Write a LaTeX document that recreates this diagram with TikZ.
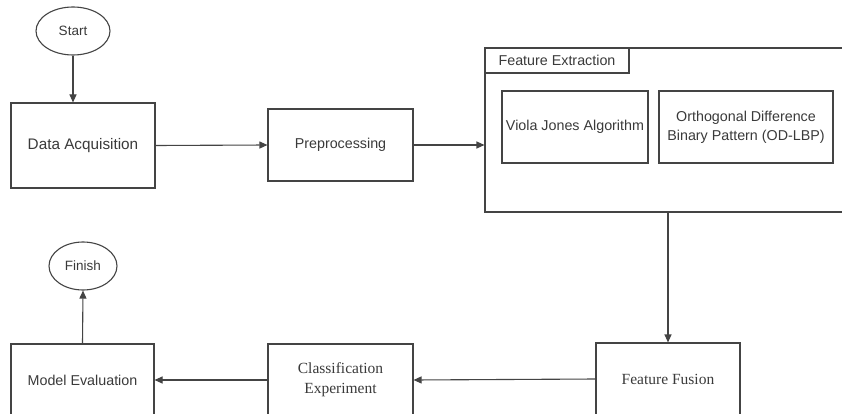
\documentclass[tikz,border=0pt]{standalone}
\usepackage{fontspec}
\setmainfont{Liberation Sans}
\newfontfamily\serifface{Liberation Serif}
\usetikzlibrary{arrows.meta,shapes.geometric,calc}
\definecolor{linec}{HTML}{444444}
\definecolor{textc}{HTML}{3A3A3A}
\tikzset{
  box/.style={draw=linec,line width=1.1pt,rectangle,inner sep=0pt,align=center,text=textc,font=\fontsize{14.3}{19}\selectfont},
  term/.style={draw=linec,line width=1.1pt,ellipse,inner sep=0pt,text=textc,font=\fontsize{13.5}{16}\selectfont},
  arr/.style={draw=linec,line width=1.1pt,-{Triangle[length=8pt,width=7pt]}},
  serifbox/.style={box,font=\serifface\fontsize{15.5}{20}\selectfont}
}
\begin{document}
\begin{tikzpicture}[x=1pt,y=-1pt]
\clip (0,0) rectangle (842,414);
\fill[white] (0,0) rectangle (842,414);
% terminals
\node[term,minimum width=74pt,minimum height=48pt] (start) at (73,31) {Start};
\node[term,minimum width=68pt,minimum height=48pt] (finish) at (83,266) {Finish};
% top row
\node[box,minimum width=144pt,minimum height=85pt,font=\fontsize{15.3}{19}\selectfont] (da) at (83,145.5) {Data Acquisition};
\node[box,minimum width=145pt,minimum height=72pt] (pre) at (340.5,145) {Preprocessing};
% feature extraction container
\node[box,minimum width=375pt,minimum height=164pt] (fe) at (672.5,130) {};
\node[box,minimum width=144pt,minimum height=25pt,anchor=north west] (fetitle) at (fe.north west) {Feature Extraction};
\node[box,minimum width=146pt,minimum height=72pt] (vj) at (575,127) {Viola Jones Algorithm};
\node[box,minimum width=174pt,minimum height=72pt] (od) at (746,127) {Orthogonal Difference\\Binary Pattern (OD-LBP)};
% bottom row
\node[serifbox,minimum width=144pt,minimum height=72pt] (ff) at (668,379) {Feature Fusion};
\node[serifbox,minimum width=145pt,minimum height=72pt] (ce) at (340.5,380) {Classification\\Experiment};
\node[box,minimum width=143pt,minimum height=72pt] (me) at (82.5,380) {Model Evaluation};
% connectors
\draw[arr] (start.south) -- (start.south |- da.north);
\draw[arr] (da.east) -- (pre.west);
\draw[arr] (pre.east) -- (pre.east -| fe.west);
\draw[arr] (ff.north |- fe.south) -- (ff.north);
\draw[arr] (ff.west) -- (ce.east);
\draw[arr] (ce.west) -- (me.east);
\draw[arr] (me.north) -- (finish.south);
\end{tikzpicture}
\end{document}
